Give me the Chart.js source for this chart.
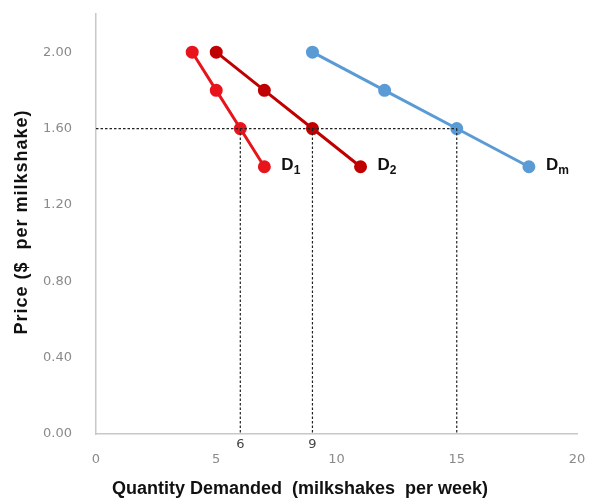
<!DOCTYPE html>
<html>
<head>
<meta charset="utf-8">
<script src="https://cdn.jsdelivr.net/npm/chart.js@4.4.1/dist/chart.umd.min.js"></script>
<style>
  html, body { margin: 0; padding: 0; background: #fff; }
  #wrap { width: 590px; height: 500px; }
</style>
</head>
<body>
<div id="wrap"><canvas id="demandChart" width="590" height="500"></canvas></div>
<script>
const prices = [2.00, 1.80, 1.60, 1.40];
const qtyD1 = [4, 5, 6, 7];
const qtyD2 = [5, 7, 9, 11];
const qtyDm = [9, 12, 15, 18];
const xTicks = [0, 5, 10, 15, 20];
const yTicks = [0, 0.4, 0.8, 1.2, 1.6, 2.0];
const markedPrice = 1.60;
const markedQty = [6, 9, 15];
const extraQtyLabels = [6, 9];

const toPoints = qty => qty.map((q, i) => ({ x: q, y: prices[i] }));

const seriesStyle = (label, color, qty) => ({
  label: label,
  data: toPoints(qty),
  borderColor: color,
  backgroundColor: color,
  borderWidth: 3,
  pointRadius: 5,
  pointHoverRadius: 5,
  showLine: true,
  fill: false
});

// dashed guide lines, extra quantity labels, curve names and axis titles
const overlay = {
  id: "overlay",
  afterDatasetsDraw(chart) {
    const { ctx, scales: { x, y } } = chart;
    const py = y.getPixelForValue(markedPrice);
    ctx.save();
    ctx.strokeStyle = "#222";
    ctx.lineWidth = 1.2;
    ctx.setLineDash([2.5, 2]);
    ctx.beginPath();
    ctx.moveTo(x.getPixelForValue(0), py);
    ctx.lineTo(x.getPixelForValue(Math.max(...markedQty)), py);
    markedQty.forEach(q => {
      const px = x.getPixelForValue(q);
      ctx.moveTo(px, py);
      ctx.lineTo(px, y.getPixelForValue(0));
    });
    ctx.stroke();
    ctx.setLineDash([]);

    ctx.fillStyle = "#444";
    ctx.font = "13px 'DejaVu Sans'";
    ctx.textAlign = "center";
    ctx.textBaseline = "middle";
    extraQtyLabels.forEach(q => {
      ctx.fillText(String(q), x.getPixelForValue(q), y.getPixelForValue(0) + 11);
    });

    // curve names with subscripts
    const names = [["D", "1"], ["D", "2"], ["D", "m"]];
    chart.data.datasets.forEach((ds, i) => {
      const last = ds.data[ds.data.length - 1];
      const px = x.getPixelForValue(last.x) + 17;
      const ly = y.getPixelForValue(last.y);
      ctx.fillStyle = "#111";
      ctx.textAlign = "left";
      ctx.font = "bold 17px 'Liberation Sans'";
      ctx.fillText(names[i][0], px, ly - 1);
      const w = ctx.measureText(names[i][0]).width;
      ctx.font = "bold 12px 'Liberation Sans'";
      ctx.fillText(names[i][1], px + w, ly + 4);
    });

    ctx.fillStyle = "#111";
    ctx.font = "bold 18px 'Liberation Sans'";
    ctx.textAlign = "center";
    ctx.fillText("Quantity Demanded  (milkshakes  per week)", 300, 489);
    ctx.translate(22, 222);
    ctx.rotate(-Math.PI / 2);
    ctx.letterSpacing = "1px";
    ctx.fillText("Price ($  per milkshake)", 0, 0);
    ctx.restore();
  }
};

new Chart(document.getElementById("demandChart"), {
  type: "scatter",
  data: {
    datasets: [
      seriesStyle("D1", "#e8141c", qtyD1),
      seriesStyle("D2", "#c00000", qtyD2),
      seriesStyle("Dm", "#5b9bd5", qtyDm)
    ]
  },
  options: {
    responsive: false,
    animation: false,
    layout: { padding: { top: 14, right: 13, left: 0, bottom: 0 } },
    plugins: {
      legend: { display: false },
      tooltip: { enabled: false }
    },
    scales: {
      x: {
        type: "linear",
        min: 0,
        max: 20,
        afterBuildTicks: axis => { axis.ticks = xTicks.map(v => ({ value: v })); },
        afterFit: axis => {
          axis.height = 66;
          axis.paddingLeft = 0;
          axis.paddingRight = 0;
        },
        grid: { display: false, drawTicks: false },
        border: { color: "#c8c8c8", width: 1.5 },
        ticks: {
          color: "#8a8a8a",
          font: { family: "DejaVu Sans", size: 13 },
          padding: 18
        }
      },
      y: {
        type: "linear",
        min: 0,
        max: 2.2,
        afterBuildTicks: axis => { axis.ticks = yTicks.map(v => ({ value: v })); },
        afterFit: axis => {
          axis.width = 96;
          axis.paddingTop = 0;
          axis.paddingBottom = 0;
        },
        grid: { display: false, drawTicks: false },
        border: { color: "#c8c8c8", width: 1.5 },
        ticks: {
          color: "#8a8a8a",
          font: { family: "DejaVu Sans", size: 13 },
          padding: 24,
          callback: v => v.toFixed(2)
        }
      }
    }
  },
  plugins: [overlay]
});
</script>
</body>
</html>
